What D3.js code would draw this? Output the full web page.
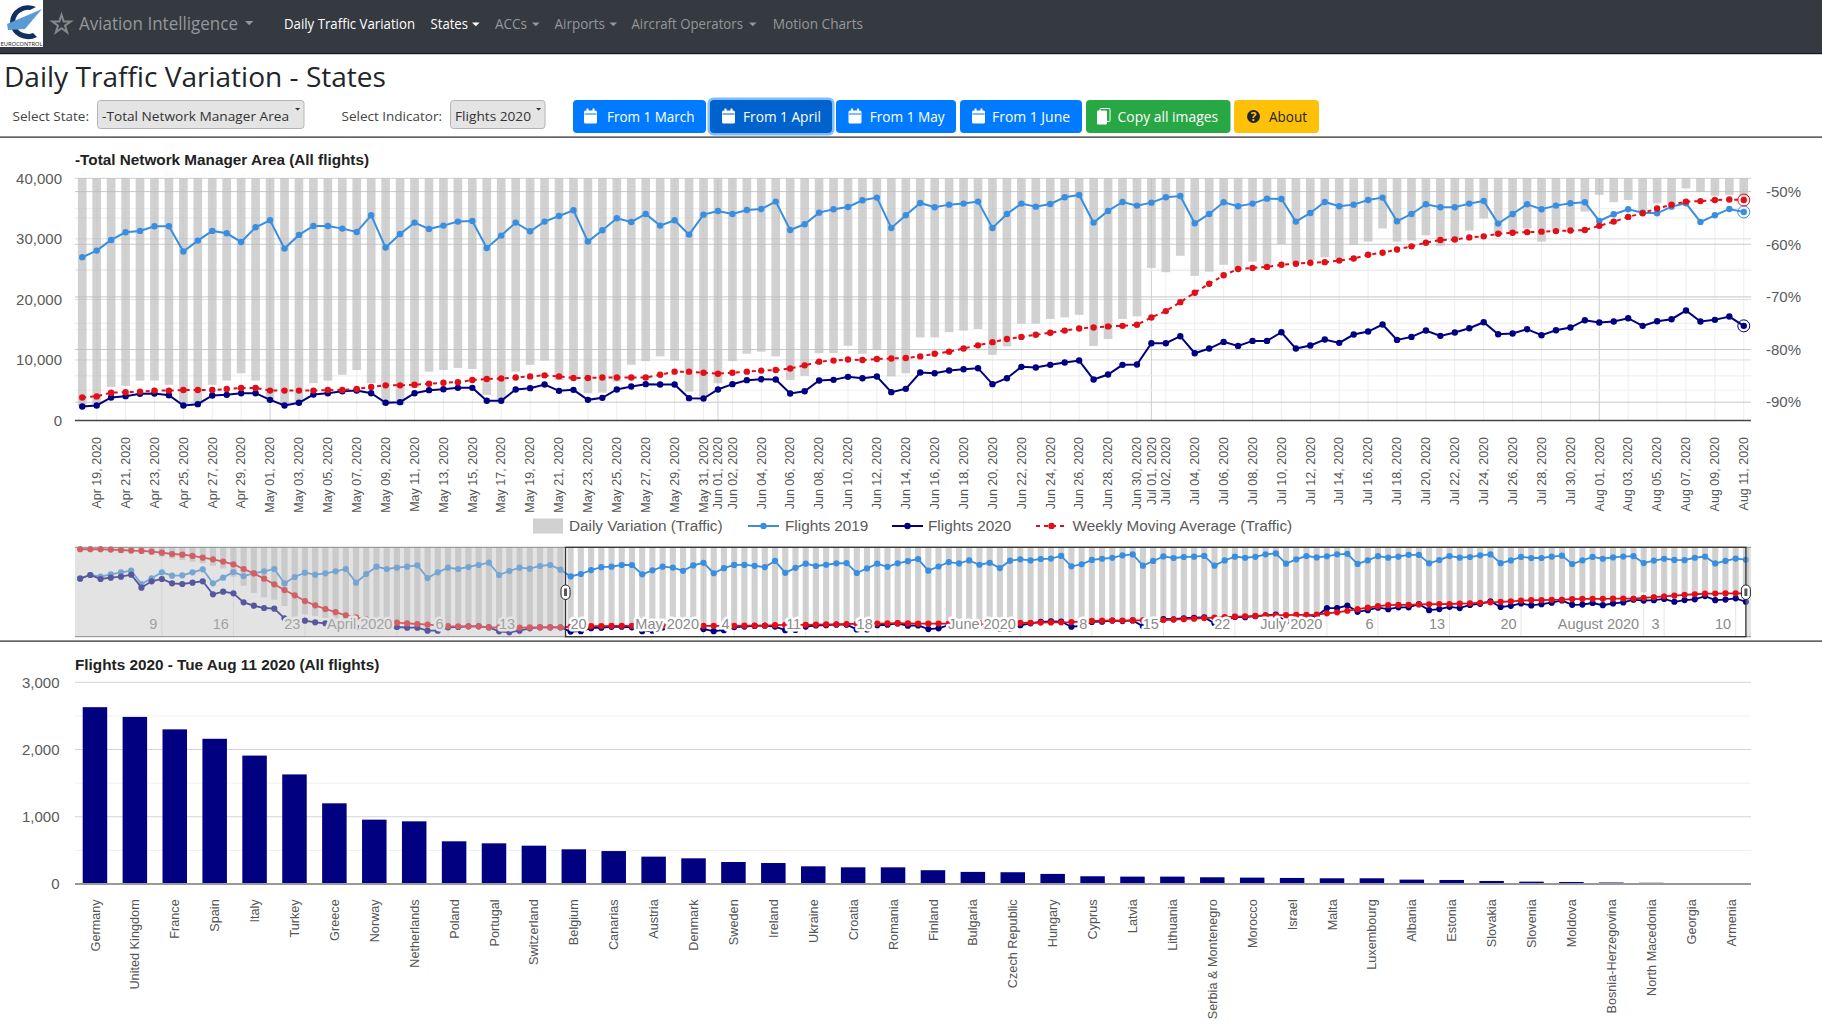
<!DOCTYPE html>
<html><head><meta charset="utf-8">
<script src="https://d3js.org/d3.v7.min.js"></script>
<style>
html,body{margin:0;padding:0;background:#fff;overflow:hidden}
svg{display:block}
.ch text{font-family:"Liberation Sans",Arial,sans-serif}
.ui text{font-family:"Open Sans","Noto Sans",sans-serif}
</style></head><body>
<svg id="s" width="1822" height="1025"></svg>
<script>
// ---------- data ----------
const earlyFlights2019=[26120,27610,26870,27910,28810,29550,23580,26120,28810,27310,27460,28810,30150,23880,26420,28950,27160,28360,29250,30300,23880,26720,28660,27760,28360,29250,30300,24180,28060,31340,30300,30890,31340,31940,26270,28810,30890,30300,31190,32090,33130,27610,29400,30890,30450,31640,32090,30000];
const earlyFlights2020=[25970,27610,25820,26420,26870,27760,21940,24780,25820,23880,23580,24180,24780,18950,20150,19400,15370,13880,12840,12540,8210,5970,7160,6420,5970,5220,4780,4180,4030,3880,4030,4330,4030,4030,2690,2690,4180,4330,4630,4630,4180,2390,1940,2690,3730,4180,4180,4180];
const earlyMoving=[-2.2,-2.2,-2.2,-2.6,-3.0,-3.7,-4.1,-4.9,-6.0,-7.5,-8.2,-9.7,-11.6,-13.4,-16.0,-19.0,-24.3,-29.1,-35.1,-41.4,-47.8,-53.7,-60.1,-64.9,-69.0,-72.4,-76.1,-78.4,-80.6,-82.8,-84.0,-84.3,-85.1,-85.8,-86.6,-87.3,-88.1,-88.4,-88.4,-88.4,-89.6,-89.6,-89.9,-89.9,-89.6,-89.6,-89.6,-89.6];
const earlyVariation=[-0.6,0,-3.9,-5.3,-6.7,-6.1,-7,-5,-10.4,-12.6,-14.1,-16.1,-17.8,-20.6,-23.7,-33,-43,-51,-56,-58.6,-65.6,-77.7,-75,-77,-79,-82,-84,-83,-86,-87.6,-86.7,-86,-87,-87.4,-89.8,-90.7,-86.5,-85.7,-85.2,-85.6,-87.4,-91.3,-93.4,-91.3,-87.8,-86.8,-87,-86.1];
const flights2019=[26960,28060,29820,31090,31310,32080,32080,27900,29710,31310,30920,29490,31910,
33070,28390,30650,32130,32130,31690,31140,33890,28560,30810,32680,31640,32190,32850,32960,28500,30540,32680,31250,32850,33780,34720,29550,31420,33400,32790,34110,32190,33070,30700,34000,
34610,34110,34770,34940,36150,31470,32410,34330,34880,35270,36370,36810,31800,33890,35930,35210,35650,35820,36150,31800,34110,35820,35320,35760,36860,37250,32680,34610,36090,35490,
35980,36860,37080,32570,34110,36040,35380,35820,36640,36590,32850,34280,36090,35380,35650,36420,36810,32900,34110,35710,35210,35210,35820,36260,32520,34110,35710,34880,35490,35870,36040,
32960,34060,34880,34330,34220,35320,35870,32790,33890,34940,34440];
const flights2020=[2310,2480,3800,4020,4400,4460,4180,2480,2700,4130,4240,4510,4510,
3410,2480,2920,4290,4510,4840,4950,4510,2920,3030,4510,5010,5170,5390,5390,3250,3250,5120,5340,5940,4900,5060,3410,3740,5120,5610,6000,5940,5940,3690,3630,
5120,6000,6660,6820,6770,4460,4840,6600,6710,7210,6990,7260,4680,5230,7920,7810,8250,8470,8640,6000,6990,8860,8750,9190,9570,9900,6770,7590,9190,9240,
12760,12760,13920,11110,11880,12980,12320,13150,13150,14580,11880,12380,13370,12820,14200,14690,15850,13310,13810,14860,13980,14530,15240,16230,14250,14360,15080,14090,14910,15350,16560,
16180,16340,16890,15630,16400,16730,18160,16340,16620,17170,15630];
const movingAverage=[-89.1,-88.9,-88.2,-88.1,-88.0,-87.8,-87.8,-87.7,-87.7,-87.7,-87.5,-87.3,-87.3,
-87.8,-87.8,-87.8,-87.8,-87.7,-87.7,-87.5,-87.1,-86.8,-86.8,-86.7,-86.5,-86.3,-86.2,-85.8,-85.6,-85.5,-85.3,-85.1,-84.9,-85.1,-85.4,-85.4,-85.3,-85.3,-85.3,-85.3,-84.8,-84.2,-84.2,-84.4,
-84.6,-84.4,-84.2,-84.0,-83.9,-83.6,-83.0,-82.3,-82.1,-81.9,-82.0,-81.8,-81.7,-81.6,-81.3,-80.8,-80.4,-79.8,-79.2,-78.6,-78.0,-77.6,-77.2,-76.8,-76.4,-76.0,-75.8,-75.6,-75.5,-75.3,
-73.9,-72.7,-71.0,-69.2,-67.5,-65.9,-64.7,-64.5,-64.3,-63.9,-63.7,-63.5,-63.4,-63.1,-62.7,-62.0,-61.6,-61.0,-60.4,-59.7,-59.2,-59.1,-58.7,-58.5,-58.0,-57.8,-57.7,-57.6,-57.5,-57.4,-57.3,
-56.5,-55.7,-54.8,-54.1,-53.2,-52.5,-51.9,-51.8,-51.6,-51.5,-51.6];
const dailyVariation=[-90.8,-90.5,-87.1,-86.9,-85.9,-85.9,-86.7,-90.5,-90.3,-86.7,-85.9,-84.5,-85.9,
-89.9,-90.7,-90.1,-86.4,-85.9,-84.8,-83.9,-86.4,-90.5,-90.5,-87.3,-84.2,-83.9,-83.5,-83.7,-88.6,-89.6,-84.2,-82.9,-82.1,-85.8,-85.8,-88.3,-88.2,-86.1,-82.9,-82.2,-81.3,-82.1,-88.0,-88.9,
-86.4,-82.2,-80.8,-80.4,-81.3,-85.8,-85.0,-80.7,-80.7,-79.3,-80.8,-80.1,-85.1,-84.5,-77.7,-77.7,-76.7,-76.4,-76.1,-81.0,-79.4,-75.1,-75.1,-74.2,-73.9,-73.4,-79.3,-78.0,-74.2,-73.7,
-64.5,-65.3,-62.2,-66.0,-65.2,-63.9,-65.0,-63.3,-63.9,-60.0,-63.7,-63.0,-62.5,-62.7,-60.1,-59.5,-57.0,-59.5,-59.3,-58.3,-60.3,-58.9,-57.4,-55.1,-57.9,-57.6,-57.0,-59.5,-57.6,-57.0,-53.8,
-50.6,-52.0,-51.6,-53.8,-52.2,-52.5,-49.4,-50.1,-50.8,-50.6,-51.0];
const mainTicks=["Apr 19","Apr 21","Apr 23","Apr 25","Apr 27","Apr 29","May 01","May 03","May 05","May 07","May 09","May 11","May 13","May 15","May 17","May 19","May 21","May 23","May 25","May 27","May 29","May 31","Jun 01","Jun 02","Jun 04","Jun 06","Jun 08","Jun 10","Jun 12","Jun 14","Jun 16","Jun 18","Jun 20","Jun 22","Jun 24","Jun 26","Jun 28","Jun 30","Jul 01","Jul 02","Jul 04","Jul 06","Jul 08","Jul 10","Jul 12","Jul 14","Jul 16","Jul 18","Jul 20","Jul 22","Jul 24","Jul 26","Jul 28","Jul 30","Aug 01","Aug 03","Aug 05","Aug 07","Aug 09","Aug 11"];
const rangeWeekTicks=["Mar 09","Mar 16","Mar 23","Apr 06","Apr 13","Apr 20","May 04","May 11","May 18","Jun 08","Jun 15","Jun 22","Jul 06","Jul 13","Jul 20","Aug 03","Aug 10"];
const rangeMonthTicks=["Apr 01","May 01","Jun 01","Jul 01","Aug 01"];
const countries=["Germany","United Kingdom","France","Spain","Italy","Turkey","Greece","Norway","Netherlands","Poland","Portugal","Switzerland","Belgium","Canarias","Austria","Denmark","Sweden","Ireland","Ukraine","Croatia","Romania","Finland","Bulgaria","Czech Republic","Hungary","Cyprus","Latvia","Lithuania","Serbia & Montenegro","Morocco","Israel","Malta","Luxembourg","Albania","Estonia","Slovakia","Slovenia","Moldova","Bosnia-Herzegovina","North Macedonia","Georgia","Armenia"];
const countryFlights=[2630,2485,2300,2160,1910,1630,1200,957,932,635,605,570,516,490,407,382,327,312,263,248,248,205,180,175,150,115,110,110,100,95,90,85,85,65,60,45,35,30,22,18,12,10];

// ---------- helpers ----------
const svg=d3.select("#s");
const parseTick=d3.utcParse("%b %d %Y");
const tickDate=s=>parseTick(s+" 2020");
const allDays=d3.utcDay.range(Date.UTC(2020,2,1),Date.UTC(2020,7,12));
const mainDays=allDays.slice(48);
const halfDay=12*3600e3;
const rows=(days,a,b,c,d)=>days.map((t,i)=>({t,f19:a[i],f20:b[i],ma:c[i],v:d[i]}));
const C19="#3a8ee0",C20="#000080",CMA="#e0101a",CBAR="#bbbbbb";
const L=75,R=1751;

// ---------- page chrome ----------
const ui=svg.append("g").attr("class","ui");
function t(x,y,s,o={}){const e=ui.append("text").attr("x",x).attr("y",y).text(s)
  .attr("font-size",o.size||14).attr("fill",o.fill||"#212529");
  if(o.len){e.attr("textLength",o.len).attr("lengthAdjust","spacingAndGlyphs");}
  if(o.weight)e.attr("font-weight",o.weight);
  return e;}
function caret(x,y,c,w=4.5){ui.append("path").attr("d",`M${x},${y}l${w*2},0l${-w},${w}z`).attr("fill",c);}
ui.append("rect").attr("width",1822).attr("height",53).attr("fill","#343a40");
ui.append("rect").attr("y",53).attr("width",1822).attr("height",1.2).attr("fill","#15181b");
// logo
ui.append("rect").attr("width",43).attr("height",47).attr("fill","#fff");
ui.append("path").attr("d","M36,7 A18,17 0 1 0 37,37 L33,33 A13,12 0 1 1 30,10 Z").attr("fill","#12305f");
ui.append("path").attr("d","M42,9 L7,24 L8,30 L25,29 Z").attr("fill","#5b9bd5");
t(0.5,46,"EUROCONTROL",{size:6,fill:"#111",len:42});
// brand + nav
ui.append("path").attr("transform","translate(61.5,24.5)").attr("d",d3.symbol(d3.symbolStar,105)()).attr("fill","none").attr("stroke","#85888b").attr("stroke-width",2);
t(79,30,"Aviation Intelligence",{size:19,fill:"#94979a",len:159});caret(245,21,"#94979a",4.2);
const navItems=[["Daily Traffic Variation",284,131,"#fff",0],["States",430.5,37.5,"#fff",472],["ACCs",495,32,"#94979a",532],["Airports",554.5,50.5,"#94979a",609.5],["Aircraft Operators",631.5,111.5,"#94979a",749],["Motion Charts",772.7,90.3,"#94979a",0]];
navItems.forEach(([s,x,w,c,cx])=>{t(x,29,s,{size:14,fill:c,len:w});if(cx)caret(cx,22.5,c,3.8);});
t(4,87,"Daily Traffic Variation - States",{size:28,fill:"#212529",len:382,weight:500});
t(12.5,120.5,"Select State:",{size:13,fill:"#444",len:76.5});
t(341.5,120.5,"Select Indicator:",{size:13,fill:"#444",len:100.5});
[[97.5,206.5,"-Total Network Manager Area",102,187],[450.5,94.5,"Flights 2020",455,76]].forEach(([x,w,s,tx,tw])=>{
  ui.append("rect").attr("x",x).attr("y",100.5).attr("width",w).attr("height",28).attr("rx",3).attr("fill","#e4e4e4").attr("stroke","#b5b5b5");
  t(tx,120.5,s,{size:13.5,fill:"#333",len:tw});
  caret(x+w-9,108,"#333",2.6);
});
const btnCols={b:"#007bff",a:"#0062cc",g:"#28a745",y:"#ffc107"};
const buttons=[[573,133,"b","From 1 March",584,607,87.5,"cal"],[710,122,"a","From 1 April",722,743,78,"cal"],[836,120,"b","From 1 May",848.5,869.7,75,"cal"],[960,122,"b","From 1 June",972,992,78,"cal"],[1086,144.5,"g","Copy all images",1097,1117.6,100.5,"copy"],[1234,85,"y","About",1247,1269,38,"q"]];
buttons.forEach(([x,w,k,s,ix,tx,tw,ic])=>{
  if(k==="a")ui.append("rect").attr("x",x-2.5).attr("y",97.5).attr("width",w+5).attr("height",38).attr("rx",6).attr("fill","#80bdff");
  ui.append("rect").attr("x",x).attr("y",100).attr("width",w).attr("height",33).attr("rx",4).attr("fill",btnCols[k]);
  const c=k==="y"?"#212529":"#fff";
  t(tx,122,s,{size:14,fill:c,len:tw});
  if(ic==="cal"){
    ui.append("rect").attr("x",ix).attr("y",110.5).attr("width",13).attr("height",13).attr("rx",1.5).attr("fill",c);
    ui.append("rect").attr("x",ix+.5).attr("y",113.5).attr("width",12).attr("height",1).attr("fill",btnCols[k]);
    ui.append("rect").attr("x",ix+2.5).attr("y",108.5).attr("width",2).attr("height",3).attr("fill",c);
    ui.append("rect").attr("x",ix+8.5).attr("y",108.5).attr("width",2).attr("height",3).attr("fill",c);
  } else if(ic==="copy"){
    ui.append("rect").attr("x",ix+3).attr("y",108.5).attr("width",10).attr("height",13).attr("rx",1).attr("fill","none").attr("stroke",c);
    ui.append("rect").attr("x",ix).attr("y",110.5).attr("width",10).attr("height",14).attr("rx",1).attr("fill",c);
  } else {
    ui.append("circle").attr("cx",ix+6.5).attr("cy",116.5).attr("r",6.5).attr("fill",c);
    ui.append("text").attr("x",ix+6.5).attr("y",121).attr("text-anchor","middle").attr("font-size",12).attr("font-weight",700).attr("fill","#ffc107").text("?");
  }
});
ui.append("rect").attr("y",136.5).attr("width",1822).attr("height",1.2).attr("fill","#222");
ui.append("rect").attr("y",640.5).attr("width",1822).attr("height",1.2).attr("fill","#222");

// ---------- main chart ----------
const mainG=svg.append("g").attr("class","ch");
const T=178.3,B=420.5;
const x=d3.scaleUtc().domain([+mainDays[0]-halfDay,+mainDays[mainDays.length-1]+halfDay]).range([L,R]);
const yL=d3.scaleLinear().domain([0,40000]).range([B,T]);
const yR=d3.scaleLinear().domain([-93.48,-47.47]).range([B,T]);
const mainData=rows(mainDays,flights2019,flights2020,movingAverage,dailyVariation);
const tickDates=mainTicks.map(tickDate);
// grids
const hLine=(g,y,c)=>g.append("line").attr("x1",L).attr("x2",R).attr("y1",y).attr("y2",y).attr("stroke",c).attr("stroke-width",1);
const grid=mainG.append("g");
tickDates.forEach(d=>{grid.append("line").attr("x1",x(d)).attr("x2",x(d)).attr("y1",T).attr("y2",B)
  .attr("stroke",d.getUTCDate()===1?"#cfcfcf":"#eeeeee");});
[5000,15000,25000,35000].forEach(v=>hLine(grid,yL(v),"#f1f1f1"));
[10000,20000,30000].forEach(v=>hLine(grid,yL(v),"#dcdcdc"));
hLine(grid,T,"#cfcfcf");
[-55,-65,-75,-85].forEach(v=>hLine(grid,yR(v),"#ececec"));
[-50,-60,-70,-80,-90].forEach(v=>hLine(grid,yR(v),"#c8c8c8"));
// bars hanging from the top
const bw=x(mainDays[1])-x(mainDays[0]);
mainG.append("g").selectAll("rect").data(mainData).join("rect")
  .attr("x",d=>x(d.t)-bw*.3).attr("width",bw*.6).attr("y",T)
  .attr("height",d=>Math.max(0,yR(d.v)-T)).attr("fill",CBAR).attr("fill-opacity",.68);
function series(g,data,X,Y,key,col,w,r,dash){
  const ln=d3.line().x(d=>X(d.t)).y(d=>Y(d[key]));
  const p=g.append("path").datum(data).attr("d",ln).attr("fill","none").attr("stroke",col).attr("stroke-width",w);
  if(dash)p.attr("stroke-dasharray",dash);
  g.append("g").selectAll("circle").data(data).join("circle").attr("cx",d=>X(d.t)).attr("cy",d=>Y(d[key])).attr("r",r).attr("fill",col);
}
series(mainG,mainData,x,yL,"f19",C19,2,3.2);
series(mainG,mainData,x,yL,"f20",C20,2,3.2);
series(mainG,mainData,x,yR,"ma",CMA,2,3.2,"4 4");
// focus rings on the last date
const last=mainData[mainData.length-1];
[[yL(last.f19),C19],[yL(last.f20),C20],[yR(last.ma),CMA]].forEach(([cy,c])=>{
  mainG.append("circle").attr("cx",x(last.t)).attr("cy",cy).attr("r",6).attr("fill","none").attr("stroke",c).attr("stroke-width",1);});
// axes
function styleAxis(g,size,col){g.select(".domain").remove();g.selectAll("line").remove();
  g.selectAll("text").attr("font-size",size).attr("fill",col).attr("font-family",'"Liberation Sans",Arial,sans-serif');}
mainG.append("g").attr("transform",`translate(${L},0)`)
  .call(d3.axisLeft(yL).tickValues([0,10000,20000,30000,40000]).tickFormat(d3.format(",")).tickSize(0).tickPadding(13))
  .call(g=>styleAxis(g,15,"#5a5a5a"));
mainG.append("g").attr("transform",`translate(${R},0)`)
  .call(d3.axisRight(yR).tickValues([-50,-60,-70,-80,-90]).tickFormat(d=>d+"%").tickSize(0).tickPadding(15))
  .call(g=>styleAxis(g,15,"#5a5a5a"));
mainG.append("g").attr("transform",`translate(0,${B})`)
  .call(d3.axisBottom(x).tickValues(tickDates).tickFormat(d3.utcFormat("%b %d, %Y")).tickSize(0))
  .call(g=>{styleAxis(g,12.5,"#555");
    g.selectAll("text").attr("transform","rotate(-90)").attr("text-anchor","end").attr("x",-16.5).attr("y",0).attr("dy",".3em");});
mainG.append("line").attr("x1",L).attr("x2",R).attr("y1",B).attr("y2",B).attr("stroke","#444").attr("stroke-width",1.4);
mainG.append("text").attr("x",L).attr("y",165).attr("font-size",15.3).attr("font-weight",700).attr("fill","#222").text("-Total Network Manager Area (All flights)");
// legend
const lg=mainG.append("g");
lg.append("rect").attr("x",533).attr("y",518.5).attr("width",30).attr("height",15).attr("fill",CBAR).attr("fill-opacity",.68);
const legendTx=(xx,s)=>lg.append("text").attr("x",xx).attr("y",531).attr("font-size",15.3).attr("fill","#5a5a5a").text(s);
legendTx(569,"Daily Variation (Traffic)");
[[748,C19,null],[892,C20,null],[1036,CMA,"4 4"]].forEach(([xx,c,da])=>{
  const l=lg.append("line").attr("x1",xx).attr("x2",xx+31).attr("y1",526).attr("y2",526).attr("stroke",c).attr("stroke-width",2);
  if(da)l.attr("stroke-dasharray",da);
  lg.append("circle").attr("cx",xx+15.5).attr("cy",526).attr("r",3.2).attr("fill",c);
});
legendTx(785,"Flights 2019");legendTx(928,"Flights 2020");legendTx(1072.5,"Weekly Moving Average (Traffic)");

// ---------- range filter ----------
const rg=svg.append("g").attr("class","ch");
const RT=547.3,RB=636.7;
const rx=d3.scaleUtc().domain([+allDays[0]-halfDay,+allDays[allDays.length-1]+halfDay]).range([L,R]);
const ryL=d3.scaleLinear().domain([0,40000]).range([RB,RT]);
const ryR=d3.scaleLinear().domain([-100,0]).range([RB,RT]);
const rangeData=rows(allDays,earlyFlights2019.concat(flights2019),earlyFlights2020.concat(flights2020),earlyMoving.concat(movingAverage),earlyVariation.concat(dailyVariation));
const rStep=rx(allDays[1])-rx(allDays[0]);
rangeWeekTicks.concat(rangeMonthTicks).map(tickDate).forEach(d=>{
  rg.append("line").attr("x1",rx(d)).attr("x2",rx(d)).attr("y1",RT).attr("y2",RB).attr("stroke","#e6e6e6");});
rg.append("g").selectAll("rect").data(rangeData).join("rect")
  .attr("x",d=>rx(d.t)-rStep*.3).attr("width",rStep*.6).attr("y",RT)
  .attr("height",d=>Math.max(0,ryR(d.v)-RT)).attr("fill",CBAR).attr("fill-opacity",.68);
series(rg,rangeData,rx,ryL,"f19",C19,1.8,3.1);
series(rg,rangeData,rx,ryL,"f20",C20,1.8,3.1);
series(rg,rangeData,rx,ryR,"ma",CMA,1.8,3.1);
const rl=rg.append("g");
const rangeAxis=(ticks,fmt)=>rl.append("g").attr("transform",`translate(0,${RB})`)
  .call(d3.axisBottom(rx).tickValues(ticks.map(tickDate)).tickFormat(fmt).tickSize(0))
  .call(g=>{styleAxis(g,14.5,"#8a8a8a");
    g.selectAll("text").attr("text-anchor","end").attr("x",-5).attr("y",-7.5).attr("dy",0)
     .attr("stroke","#fff").attr("stroke-width",5).attr("paint-order","stroke").attr("stroke-linejoin","round");});
rangeAxis(rangeWeekTicks,d3.utcFormat("%-d"));
rangeAxis(rangeMonthTicks,d3.utcFormat("%B %Y"));
// selection mask and frame
const selL=rx(mainDays[0])-rStep/2, selR=rx(allDays[allDays.length-1]);
[[L,selL],[selR,R]].forEach(([a,b])=>rg.append("rect").attr("x",a).attr("y",RT).attr("width",b-a).attr("height",RB-RT).attr("fill","#c0c0c0").attr("fill-opacity",.45));
rg.append("line").attr("x1",L).attr("x2",R).attr("y1",RT).attr("y2",RT).attr("stroke","#8a8a8a");
rg.append("line").attr("x1",L).attr("x2",R).attr("y1",RB).attr("y2",RB).attr("stroke","#8a8a8a");
rg.append("rect").attr("x",selL).attr("y",RT).attr("width",selR-selL).attr("height",RB-RT).attr("fill","none").attr("stroke","#333").attr("stroke-width",1.3);
[selL,selR].forEach(h=>{
  rg.append("rect").attr("x",h-4.5).attr("y",585).attr("width",9).attr("height",14.5).attr("rx",4.5).attr("fill","#fff").attr("stroke","#222");
  rg.append("rect").attr("x",h-1.5).attr("y",588.5).attr("width",3).attr("height",7.5).attr("fill","#555");
});

// ---------- countries bar chart ----------
const bg=svg.append("g").attr("class","ch");
const CT=682.3,CB=884;
const bx=d3.scaleBand().domain(countries).range([L,R]).padding(.386).paddingOuter(.193);
const by=d3.scaleLinear().domain([0,3000]).range([CB,CT]);
[500,1500,2500].forEach(v=>hLine(bg,by(v),"#f0f0f0"));
[1000,2000,3000].forEach(v=>hLine(bg,by(v),"#d5d5d5"));
bg.append("g").selectAll("rect").data(countries).join("rect")
  .attr("x",d=>bx(d)).attr("width",bx.bandwidth())
  .attr("y",(d,i)=>by(countryFlights[i])).attr("height",(d,i)=>CB-by(countryFlights[i])).attr("fill",C20);
bg.append("g").attr("transform",`translate(${L},0)`)
  .call(d3.axisLeft(by).tickValues([0,1000,2000,3000]).tickFormat(d3.format(",")).tickSize(0).tickPadding(15.5))
  .call(g=>styleAxis(g,15,"#5a5a5a"));
bg.append("g").attr("transform",`translate(0,${CB})`)
  .call(d3.axisBottom(bx).tickSize(0))
  .call(g=>{styleAxis(g,12.7,"#555");
    g.selectAll("text").attr("transform","rotate(-90)").attr("text-anchor","end").attr("x",-15.3).attr("y",0).attr("dy",".36em");});
bg.append("line").attr("x1",L).attr("x2",R).attr("y1",CB).attr("y2",CB).attr("stroke","#999").attr("stroke-width",2);
bg.append("text").attr("x",L).attr("y",669.5).attr("font-size",15.3).attr("font-weight",700).attr("fill","#222").text("Flights 2020 - Tue Aug 11 2020 (All flights)");
</script>
</body></html>
